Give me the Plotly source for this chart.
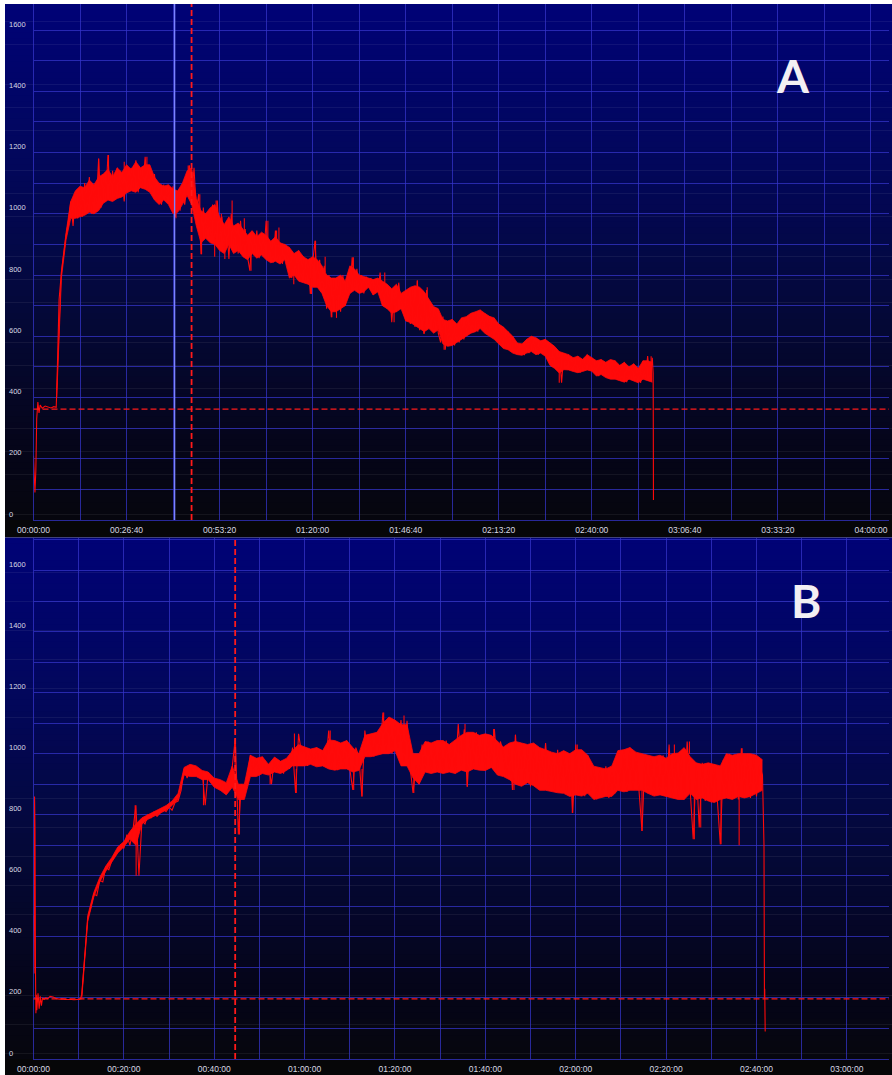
import plotly.graph_objects as go

W, H = 892, 1075

# ================= Panel A data =================
A_START_T = [0, 10, 25, 40, 55, 75, 95, 115, 150, 200, 250, 300, 350, 390]
A_START_V = [210, 170, 90, 160, 330, 385, 350, 375, 365, 372, 368, 366, 370, 368]
# raw samples of the noisy record (every 40 s from 400 s)
A_BODY_T0 = 400
A_BODY_STEP = 40
A_BODY_V = [
    420, 720, 810, 880, 930, 975, 1040, 960, 1060, 985,
    1085, 990, 1100, 1010, 1120, 1000, 1095, 1030, 1180, 1020,
    1130, 1040, 1192, 1050, 1140, 1045, 1150, 1060, 1120, 1040,
    1160, 1075, 1150, 1085, 1175, 1070, 1145, 1090, 1186, 1080,
    1150, 1070, 1130, 1040, 1100, 1030, 1095, 1045, 1085, 1035,
    1090, 990, 1070, 1010, 1095, 1030, 1100, 1158, 1060, 1150,
    1010, 1064, 868, 1020, 920, 1000, 930, 1030, 905, 1043,
    910, 990, 880, 975, 852, 1000, 900, 960, 870, 977,
    880, 950, 860, 814, 940, 870, 945, 855, 935, 865,
    977, 850, 910, 840, 945, 845, 905, 836, 900, 850,
    890, 790, 870, 800, 880, 780, 860, 775, 850, 738,
    840, 912, 760, 850, 760, 830, 690, 800, 662, 790,
    690, 790, 680, 800, 700, 780, 740, 858, 760, 820,
    750, 800, 740, 795, 760, 790, 735, 785, 745, 808,
    700, 770, 690, 760, 646, 750, 680, 775, 700, 740,
    650, 750, 640, 760, 630, 782, 620, 740, 608, 751,
    640, 700, 625, 690, 610, 580, 664, 556, 650, 575,
    655, 570, 640, 580, 660, 590, 650, 610, 670, 620,
    680, 615, 686, 625, 675, 610, 665, 600, 660, 590,
    640, 575, 630, 560, 615, 556, 600, 545, 578, 540,
    575, 538, 590, 545, 600, 550, 595, 540, 585, 560,
    590, 535, 578, 500, 560, 495, 550, 448, 545, 505,
    540, 490, 530, 485, 535, 481, 525, 495, 540, 490,
    530, 486, 520, 470, 524, 475, 515, 465, 510, 470,
    520, 460, 505, 455, 515, 450, 500, 460, 510, 455,
    495, 448, 520, 460, 535, 455, 530,
]
# band envelope (max / min per 80 s bin from 400 s)
A_BIN_T0 = 400
A_BIN_STEP = 80
A_HI = [
    425, 812, 938, 1040, 1075, 1090, 1085, 1110, 1095, 1120,
    1130, 1145, 1120, 1150, 1135, 1160, 1145, 1170, 1150, 1160,
    1160, 1120, 1100, 1090, 1095, 1080, 1075, 1100, 1140, 1150,
    1050, 1010, 1000, 1020, 1030, 990, 965, 990, 960, 970,
    950, 930, 945, 925, 940, 930, 910, 925, 905, 900,
    890, 870, 880, 860, 850, 860, 850, 830, 800, 790,
    790, 800, 780, 830, 820, 800, 795, 790, 785, 790,
    780, 770, 755, 770, 740, 750, 760, 765, 760, 745,
    720, 697, 690, 655, 650, 655, 640, 660, 664, 675,
    680, 686, 675, 665, 660, 640, 630, 615, 600, 578,
    575, 590, 600, 595, 585, 590, 578, 567, 550, 545,
    540, 530, 535, 525, 540, 530, 520, 524, 515, 524,
    520, 505, 515, 500, 510, 495, 520, 520, 515,
]
A_LO = [
    400, 790, 915, 985, 985, 990, 995, 1005, 1000, 1010,
    1034, 1045, 1040, 1050, 1055, 1068, 1075, 1070, 1085, 1080,
    1070, 1045, 1030, 1045, 1030, 1000, 1005, 1030, 1060, 1030,
    960, 905, 920, 905, 900, 880, 870, 900, 870, 880,
    860, 850, 870, 855, 865, 850, 840, 845, 836, 850,
    790, 800, 780, 775, 770, 760, 760, 740, 700, 680,
    680, 690, 700, 740, 750, 740, 745, 760, 735, 745,
    700, 690, 675, 680, 690, 650, 645, 635, 625, 615,
    625, 610, 621, 575, 567, 570, 580, 590, 600, 610,
    615, 625, 610, 600, 590, 575, 560, 556, 545, 540,
    538, 545, 550, 540, 545, 535, 505, 495, 480, 491,
    490, 485, 481, 485, 490, 486, 470, 475, 465, 460,
    460, 455, 450, 460, 455, 448, 460, 455, 450,
]
A_END_T = [10655, 10660]
A_END_V = [480, 65]
# isolated hair spikes: time, band value, spike tip value
A_SPIKE_T = [1120, 1290, 1560, 1950, 2450, 2660, 2860, 2890, 3115, 3140, 3230, 3290,
             3415, 3625, 3740, 4030, 4180, 4220, 4475, 4780, 4850, 5015, 5130, 5210,
             5500, 6040, 6200, 6600, 6710, 6770, 7060, 9040, 10620]
A_SPIKE_FROM = [1090, 1110, 1120, 1140, 1030, 1100, 990, 940, 920, 1000, 950, 900,
                960, 930, 880, 900, 900, 900, 800, 790, 840, 810, 720, 720,
                800, 760, 700, 720, 650, 720, 610, 500, 490]
A_SPIKE_TO = [1180, 1192, 1170, 1186, 985, 1158, 1064, 868, 860, 1043, 1000, 852,
              1043, 985, 814, 977, 945, 955, 770, 738, 912, 860, 662, 660,
              858, 808, 646, 782, 608, 760, 556, 448, 535]
A_BLUE_MARK_T = 2426
A_RED_MARK_T = 2718
A_THRESHOLD = 362
A_X_MAX = 14710
A_Y_MAX = 1685
A_GRID_STEP = 800
A_TICK_LABELS = ["00:00:00", "00:26:40", "00:53:20", "01:20:00", "01:46:40",
                 "02:13:20", "02:40:00", "03:06:40", "03:33:20", "04:00:00"]

# ================= Panel B data =================
B_START_T = [0, 8, 14, 20, 26, 32, 38, 44, 60, 75, 90, 105, 120, 140, 160, 190,
             220, 260, 300, 340, 380, 420, 460, 500, 540, 580, 620]
B_START_V = [470, 280, 860, 750, 300, 150, 210, 160, 215, 165, 205, 175, 200, 195,
             200, 198, 205, 203, 198, 196, 197, 195, 196, 195, 194, 195, 196]
B_BODY_T0 = 640
B_BODY_STEP = 40
B_BODY_V = [
    210, 350, 460, 495, 540, 535, 585, 580, 628, 620,
    650, 665, 680, 700, 690, 735, 700, 750, 831, 600,
    780, 770, 800, 790, 810, 795, 805, 820, 810, 825,
    815, 840, 845, 880, 950, 920, 960, 930, 955, 925,
    940, 831, 938, 920, 900, 915, 880, 905, 870, 910,
    960, 1050, 735, 900, 860, 930, 995, 940, 985, 930,
    990, 935, 965, 900, 985, 945, 975, 935, 980, 950,
    1020, 871, 1065, 1000, 1022, 960, 1015, 965, 1020, 960,
    1010, 965, 1076, 950, 1040, 946, 1030, 955, 1043, 950,
    881, 1020, 990, 860, 1076, 995, 1060, 990, 1070, 1000,
    1135, 1010, 1120, 1000, 1100, 1020, 1110, 975, 1108, 957,
    871, 960, 900, 1030, 950, 1040, 940, 1035, 945, 1020,
    940, 1043, 950, 1030, 935, 1097, 960, 1080, 892, 1060,
    950, 1070, 960, 1050, 945, 1060, 955, 1081, 950, 1040,
    1000, 925, 1022, 881, 1062, 900, 1035, 910, 1020, 893,
    1030, 905, 1010, 920, 1035, 895, 1000, 880, 1013, 890,
    1005, 875, 990, 806, 1030, 870, 1010, 861, 995, 880,
    955, 850, 945, 860, 959, 855, 940, 870, 1000, 880,
    1013, 875, 1020, 885, 1000, 880, 747, 990, 870, 985,
    865, 980, 870, 995, 861, 1030, 855, 1000, 860, 995,
    850, 1040, 870, 720, 960, 758, 970, 845, 955, 840,
    965, 850, 703, 980, 860, 1000, 855, 990, 850, 1018,
    870, 1000, 855, 995, 860, 960, 930,
]
B_BIN_T0 = 640
B_BIN_STEP = 80
B_HI = [
    205, 470, 545, 595, 632, 660, 695, 712, 745, 770,
    790, 800, 810, 820, 830, 845, 870, 955, 965, 960,
    945, 940, 920, 915, 905, 960, 900, 900, 995, 985,
    990, 965, 989, 975, 985, 1010, 1030, 1022, 1015, 1020,
    1010, 1045, 1043, 1035, 1043, 1020, 1000, 1060, 1065, 1070,
    1100, 1120, 1110, 1095, 1095, 1000, 1000, 1040, 1035, 1043,
    1043, 1030, 1045, 1060, 1070, 1070, 1060, 1065, 1060, 1040,
    1022, 1035, 1040, 1035, 1030, 1035, 1020, 1013, 1005, 1000,
    1010, 1000, 1013, 1013, 995, 959, 955, 950, 960, 1010,
    1013, 1020, 1005, 1000, 995, 990, 995, 985, 1000, 1002,
    1020, 990, 970, 965, 970, 965, 960, 1000, 995, 1000,
    1000, 1000, 995, 980,
]
B_LO = [
    195, 450, 530, 580, 615, 645, 675, 695, 720, 700,
    770, 785, 795, 805, 815, 830, 850, 930, 925, 925,
    915, 915, 890, 880, 865, 890, 850, 850, 925, 925,
    935, 930, 940, 935, 945, 960, 960, 960, 965, 957,
    960, 950, 946, 950, 950, 940, 945, 990, 990, 995,
    1000, 1000, 1010, 960, 960, 920, 900, 940, 935, 940,
    935, 940, 935, 946, 940, 950, 946, 945, 955, 930,
    925, 915, 900, 893, 905, 895, 880, 880, 875, 872,
    870, 860, 865, 861, 870, 850, 855, 860, 860, 880,
    875, 880, 880, 880, 870, 861, 865, 860, 855, 850,
    850, 870, 850, 855, 845, 840, 850, 855, 850, 860,
    855, 860, 870, 880,
]
B_END_T = [9700, 9706, 9710, 9716]
B_END_V = [700, 200, 230, 90]
B_SPIKE_T = [1350, 1363, 2257, 2677, 2735, 3142, 3465, 3490, 3940, 4252, 4363, 4650,
             4920, 5050, 5730, 5760, 6110, 6380, 6400, 7155, 7220, 8080, 8510, 8710,
             8775, 8860, 9130, 9370, 9410]
B_SPIKE_FROM = [750, 740, 920, 930, 860, 935, 1010, 950, 1020, 945, 950, 1090,
                1080, 930, 1050, 950, 1040, 920, 1030, 880, 1000, 880, 990, 1000,
                860, 860, 860, 860, 990]
B_SPIKE_TO = [831, 600, 831, 1050, 735, 900, 1066, 871, 1076, 881, 860, 1135,
              1125, 871, 1097, 892, 1081, 881, 1062, 806, 1030, 747, 1030, 1040,
              720, 758, 703, 700, 1018]
B_RED_MARK_T = 2678
B_THRESHOLD = 197
B_X_MAX = 11360
B_Y_MAX = 1708
B_GRID_STEP = 600
B_TICK_LABELS = ["00:00:00", "00:20:00", "00:40:00", "01:00:00", "01:20:00",
                 "01:40:00", "02:00:00", "02:20:00", "02:40:00", "03:00:00"]

Y_LABELS = ["0", "200", "400", "600", "800", "1000", "1200", "1400", "1600"]
Y_GRID_STEP = 100
PANEL_LETTERS = ["A", "B"]

# ================= styling =================
GRID = "rgba(52,52,200,0.75)"
TRACE_RED = "#ff0a0a"
MARK_RED = "#ff1a1a"
LABEL_COL = "#d8d8e2"
FONT = "Liberation Sans"

PLOT_L, PLOT_R = 33.5, 889
PANEL_L, PANEL_R = 5, 892
A_TOP, A_BOT, A_STRIP = 4, 520, 537.5
B_TOP, B_BOT, B_STRIP = 537.5, 1059, 1075


def px(xp):
    return xp / W


def py(yp):
    return 1 - yp / H


def sample_times(t0, step, n):
    return [t0 + step * i for i in range(n)]


def spikes(ts, fr, to):
    xs, ys = [], []
    for t, a, b in zip(ts, fr, to):
        xs += [t, t, None]
        ys += [a, b, None]
    return xs, ys


fig = go.Figure()
for (xa, ya, st, sv, t0, step, body, bt0, bstep, hi, lo, spt, spf, spo, et, ev) in [
    ("x", "y", A_START_T, A_START_V, A_BODY_T0, A_BODY_STEP, A_BODY_V,
     A_BIN_T0, A_BIN_STEP, A_HI, A_LO, A_SPIKE_T, A_SPIKE_FROM, A_SPIKE_TO, A_END_T, A_END_V),
    ("x2", "y2", B_START_T, B_START_V, B_BODY_T0, B_BODY_STEP, B_BODY_V,
     B_BIN_T0, B_BIN_STEP, B_HI, B_LO, B_SPIKE_T, B_SPIKE_FROM, B_SPIKE_TO, B_END_T, B_END_V),
]:
    common = dict(mode="lines", xaxis=xa, yaxis=ya, hoverinfo="skip", showlegend=False)
    bins = sample_times(bt0, bstep, len(hi))
    # solid core of the noisy band
    fig.add_trace(go.Scatter(x=bins, y=lo, line=dict(color=TRACE_RED, width=0.8), **common))
    fig.add_trace(go.Scatter(x=bins, y=hi, line=dict(color=TRACE_RED, width=0.8),
                             fill="tonexty", fillcolor=TRACE_RED, **common))
    # raw samples on top (ragged edges)
    bt = sample_times(t0, step, len(body))
    fig.add_trace(go.Scatter(x=list(st) + bt + list(et), y=list(sv) + body + list(ev),
                             line=dict(color=TRACE_RED, width=1.1), **common))
    sx, sy = spikes(spt, spf, spo)
    fig.add_trace(go.Scatter(x=sx, y=sy, line=dict(color=TRACE_RED, width=1.1), **common))

shapes = []
STOPS = [(0.0, (0, 2, 118)), (0.3, (2, 7, 92)), (0.6, (4, 8, 56)), (0.85, (5, 5, 26)), (1.0, (6, 6, 14))]


def grad_color(f):
    for (f0, c0), (f1, c1) in zip(STOPS[:-1], STOPS[1:]):
        if f0 <= f <= f1:
            k = (f - f0) / (f1 - f0)
            return "rgb(%d,%d,%d)" % tuple(round(a + (b - a) * k) for a, b in zip(c0, c1))
    return "rgb(%d,%d,%d)" % STOPS[-1][1]


NB = 90
for top, bot, strip in [(A_TOP, A_BOT, A_STRIP), (B_TOP, B_BOT, B_STRIP)]:
    h = (bot - top) / NB
    for i in range(NB):
        y0 = top + i * h
        shapes.append(dict(type="rect", xref="paper", yref="paper", layer="below",
                           x0=px(PANEL_L), x1=px(PANEL_R), y0=py(min(y0 + h + 0.6, bot)), y1=py(y0),
                           line=dict(width=0), fillcolor=grad_color((i + 0.5) / NB)))
    shapes.append(dict(type="rect", xref="paper", yref="paper", layer="below",
                       x0=px(PANEL_L), x1=px(PANEL_R), y0=py(strip), y1=py(bot),
                       line=dict(width=0), fillcolor="rgb(6,6,8)"))

DASH = "6px,3px"
shapes.append(dict(type="line", xref="x", yref="y domain", x0=A_BLUE_MARK_T, x1=A_BLUE_MARK_T,
                   y0=0, y1=1, line=dict(color="#7b84ff", width=1.4)))
shapes.append(dict(type="line", xref="x", yref="y domain", x0=A_RED_MARK_T, x1=A_RED_MARK_T,
                   y0=0, y1=1, line=dict(color=MARK_RED, width=1.8, dash=DASH)))
shapes.append(dict(type="line", xref="x domain", yref="y", x0=0, x1=1, y0=A_THRESHOLD,
                   y1=A_THRESHOLD, line=dict(color=MARK_RED, width=1.4, dash=DASH)))
shapes.append(dict(type="line", xref="x2", yref="y2 domain", x0=B_RED_MARK_T, x1=B_RED_MARK_T,
                   y0=0, y1=1, line=dict(color=MARK_RED, width=1.8, dash=DASH)))
shapes.append(dict(type="line", xref="x2 domain", yref="y2", x0=0, x1=1, y0=B_THRESHOLD,
                   y1=B_THRESHOLD, line=dict(color=MARK_RED, width=1.4, dash=DASH)))

annotations = []
for yref in ["y", "y2"]:
    for lab in Y_LABELS:
        annotations.append(dict(xref="paper", yref=yref, x=px(7), y=int(lab), text=lab,
                                showarrow=False, xanchor="left", yanchor="middle", yshift=6,
                                font=dict(family=FONT, size=7.5, color=LABEL_COL)))
for letter, (lx, ly) in zip(PANEL_LETTERS, [(793, 75), (806, 600)]):
    annotations.append(dict(xref="paper", yref="paper", x=px(lx), y=py(ly), text="<b>%s</b>" % letter,
                            showarrow=False, xanchor="center", yanchor="middle",
                            font=dict(family="Lato", size=46, color="#f3eff3")))


def xaxis(domain, xmax, step, labels, anchor):
    vals = list(range(0, xmax + 1, step))
    texts = [labels[i // 2] if (i % 2 == 0 and i // 2 < len(labels)) else "" for i in range(len(vals))]
    return dict(domain=domain, range=[0, xmax], tickmode="array", tickvals=vals, ticktext=texts,
                showgrid=True, gridcolor=GRID, gridwidth=1, zeroline=False, showline=True,
                linecolor=GRID, linewidth=1, ticks="", anchor=anchor, automargin=False,
                ticklabelstandoff=2,
                tickfont=dict(family=FONT, size=8.5, color=LABEL_COL), fixedrange=True)


def yaxis(domain, ymax, anchor):
    return dict(domain=domain, range=[0, ymax], tickmode="array",
                tickvals=list(range(0, ymax + 1, Y_GRID_STEP)), showticklabels=False,
                showgrid=True, gridcolor=GRID, gridwidth=1, zeroline=False, showline=True,
                linecolor=GRID, linewidth=1, ticks="", anchor=anchor, automargin=False,
                fixedrange=True)


fig.update_layout(
    width=W, height=H, margin=dict(l=0, r=0, t=0, b=0, pad=0, autoexpand=False),
    paper_bgcolor="white", plot_bgcolor="rgba(0,0,0,0)",
    xaxis=xaxis([px(PLOT_L), px(PLOT_R)], A_X_MAX, A_GRID_STEP, A_TICK_LABELS, "y"),
    yaxis=yaxis([py(A_BOT), py(A_TOP)], A_Y_MAX, "x"),
    xaxis2=xaxis([px(PLOT_L), px(PLOT_R)], B_X_MAX, B_GRID_STEP, B_TICK_LABELS, "y2"),
    yaxis2=yaxis([py(B_BOT), py(B_TOP)], B_Y_MAX, "x2"),
    shapes=shapes, annotations=annotations, showlegend=False,
)

fig.write_html("out.html", config={"displayModeBar": False},
               post_script="document.body.style.margin='0px';document.body.style.padding='0px';"
                           "document.body.style.overflow='hidden';")
